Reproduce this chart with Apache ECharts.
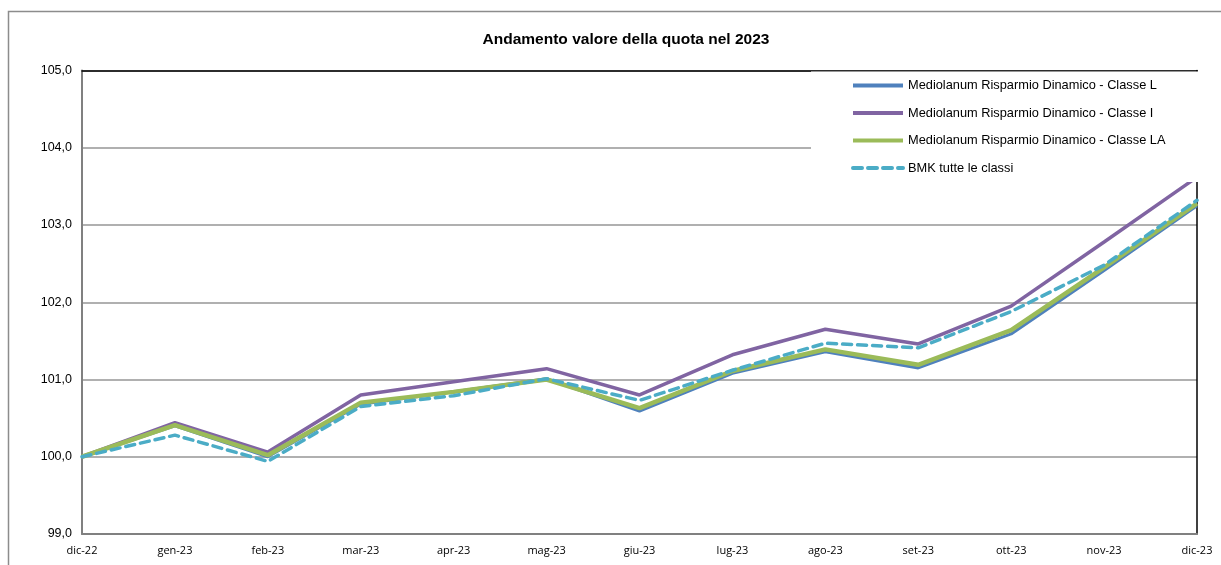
<!DOCTYPE html>
<html>
<head>
<meta charset="utf-8">
<script src="https://cdn.jsdelivr.net/npm/echarts@6/dist/echarts.min.js"></script>
<style>
html,body{margin:0;padding:0;background:#fff;}
#chart{width:1221px;height:565px;}
</style>
</head>
<body>
<div id="chart"></div>
<script>
const categories = ['dic-22','gen-23','feb-23','mar-23','apr-23','mag-23','giu-23','lug-23','ago-23','set-23','ott-23','nov-23','dic-23'];
const classeL  = [100.00, 100.40, 100.00, 100.68, 100.84, 101.01, 100.59, 101.08, 101.36, 101.15, 101.59, 102.41, 103.25];
const classeI  = [100.00, 100.44, 100.06, 100.80, 100.97, 101.14, 100.80, 101.32, 101.65, 101.46, 101.95, 102.78, 103.62];
const classeLA = [100.00, 100.41, 100.02, 100.70, 100.84, 101.00, 100.63, 101.11, 101.39, 101.19, 101.64, 102.45, 103.28];
const bmk      = [100.00, 100.28, 99.94, 100.65, 100.79, 101.01, 100.73, 101.12, 101.47, 101.41, 101.88, 102.48, 103.32];
const seriesNames = [
  'Mediolanum Risparmio Dinamico - Classe L',
  'Mediolanum Risparmio Dinamico - Classe I',
  'Mediolanum Risparmio Dinamico - Classe LA',
  'BMK tutte le classi'
];
const titleText = 'Andamento valore della quota nel 2023';

const chart = echarts.init(document.getElementById('chart'), null, {renderer:'canvas'});
const fontMain = "'Liberation Sans', Arial, sans-serif";
const dash = [9, 6];
chart.setOption({
  animation: false,
  backgroundColor: '#fff',
  title: {
    text: titleText, left: 621, textAlign: 'center', top: 27,
    textStyle: {fontFamily: fontMain, fontSize: 15.5, fontWeight: 'bold', color: '#000'}
  },
  graphic: [
    {type: 'rect', z: 0, silent: true,
     shape: {x: 8.5, y: 11.5, width: 1230, height: 600},
     style: {fill: 'none', stroke: '#8c8c8c', lineWidth: 1.5}},
    {type: 'rect', z: 50, silent: true,
     shape: {x: 811, y: 71.5, width: 388, height: 110.5},
     style: {fill: '#fff'}}
  ],
  legend: {
    z: 60,
    orient: 'vertical', left: 851, top: 79, padding: 0,
    itemWidth: 50, itemHeight: 14, itemGap: 14.5,
    itemStyle: {opacity: 0},
    lineStyle: {width: 4},
    textStyle: {fontFamily: fontMain, fontSize: 12.8, color: '#000'},
    data: [
      {name: seriesNames[0]},
      {name: seriesNames[1]},
      {name: seriesNames[2]},
      {name: seriesNames[3], lineStyle: {width: 4, type: dash}}
    ]
  },
  grid: {left: 82, right: 24, top: 70.5, bottom: 31, containLabel: false},
  xAxis: [{
    type: 'category', data: categories, boundaryGap: false,
    axisLine: {lineStyle: {color: '#808080', width: 2}},
    axisTick: {show: false},
    axisLabel: {fontFamily: "'Open Sans', sans-serif", fontSize: 11, color: '#000', margin: 11, interval: 0},
    splitLine: {show: false}
  }, {
    type: 'category', data: categories, boundaryGap: false, position: 'top',
    axisLine: {lineStyle: {color: '#000', width: 1.5}},
    axisTick: {show: false}, axisLabel: {show: false}, splitLine: {show: false}
  }],
  yAxis: [{
    type: 'value', min: 99, max: 105, interval: 1,
    axisLine: {show: true, lineStyle: {color: '#808080', width: 2}},
    axisTick: {show: false},
    axisLabel: {fontFamily: fontMain, fontSize: 12.5, color: '#000', margin: 10,
      formatter: v => v.toFixed(1).replace('.', ',')},
    splitLine: {lineStyle: {color: '#969696', width: 1.5}}
  }, {
    type: 'value', min: 99, max: 105, interval: 1, position: 'right',
    axisLine: {show: true, lineStyle: {color: '#000', width: 1.5}},
    axisTick: {show: false}, axisLabel: {show: false}, splitLine: {show: false}
  }],
  series: [
    {name: seriesNames[0], type: 'line', data: classeL, symbol: 'none',
     lineStyle: {color: '#4F81BD', width: 3}, itemStyle: {color: '#4F81BD'}},
    {name: seriesNames[1], type: 'line', data: classeI, symbol: 'none',
     lineStyle: {color: '#8064A2', width: 3.5}, itemStyle: {color: '#8064A2'}},
    {name: seriesNames[2], type: 'line', data: classeLA, symbol: 'none',
     lineStyle: {color: '#9BBB59', width: 4.5}, itemStyle: {color: '#9BBB59'}},
    {name: seriesNames[3], type: 'line', data: bmk, symbol: 'none',
     lineStyle: {color: '#4BACC6', width: 3.5, type: dash, cap: 'round'}, itemStyle: {color: '#4BACC6'}}
  ]
});
</script>
</body>
</html>
